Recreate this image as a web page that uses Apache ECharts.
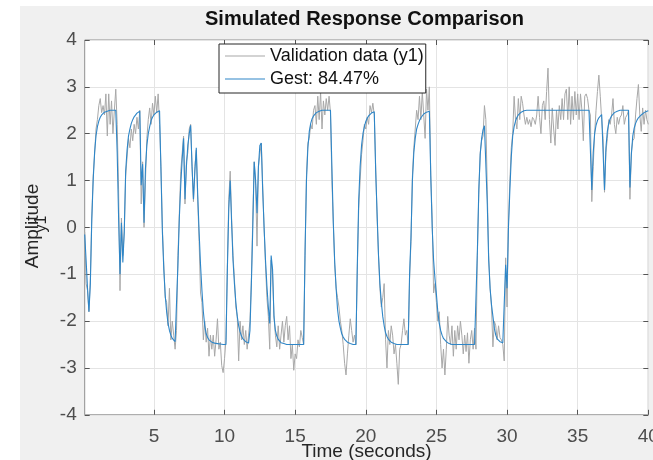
<!DOCTYPE html>
<html>
<head>
<meta charset="utf-8">
<script src="https://cdn.jsdelivr.net/npm/echarts@6/dist/echarts.min.js"></script>
<style>
  html, body { margin: 0; padding: 0; background: #fff; }
  #chart { width: 653px; height: 460px; }
</style>
</head>
<body>
<div id="chart"></div>
<script>
  // sample time of the validation record (s), first sample at dt
  const dt = 0.1;
  const xTicks = [5, 10, 15, 20, 25, 30, 35, 40];
  const seriesNames = ['Validation data (y1)', 'Gest: 84.47%'];

  // measured output, one row per second (0.1 s steps)
  const validation = [
    -0.1, -1.2, -1.35, -1.8, -1.1, 0.2, 1.1, 1.55, 2.1, 2.3,
    2.6, 2.75, 2.45, 2.6, 2.4, 2.85, 1.95, 2.85, 2.2, 2.7,
    2.0, 2.5, 2.95, 2.2, 0.8, -1.35, 0.2, -0.6, -0.1, 1.1,
    1.5, 1.9, 1.7, 2.1, 1.85, 2.2, 2.0, 2.35, 2.1, 2.5,
    0.5, 1.4, 0.0, 1.0, 1.9, 2.3, 2.55, 2.2, 2.65, 2.4,
    2.8, 2.45, 2.85, 2.2, 1.3, 0.0, -0.8, -1.5, -1.6, -2.1,
    -1.3, -2.4, -2.0, -2.3, -2.6, -2.2, -0.6, 0.3, 1.2, 1.2,
    1.95, 0.5, 1.4, 1.6, 2.1, 2.2, 1.3, 0.55, 1.3, 1.65,
    0.6, -0.3, -1.4, -1.6, -2.4, -2.0, -2.45, -2.15, -2.75, -2.3,
    -2.6, -2.3, -2.75, -2.4, -1.95, -2.6, -2.45, -2.95, -3.1, -2.8,
    -2.4, -0.8, 0.6, 1.2, 0.2, -0.6, -1.1, -1.7, -1.9, -2.85,
    -2.0, -2.4, -2.1, -2.5, -2.2, -2.6, -2.3, -2.0, -1.1, 0.2,
    1.4, 0.9, -0.4, 1.3, 1.55, 1.8, 0.9, 0.0, -0.8, -1.5,
    -1.9, -2.6, -0.7, -1.0, -1.9, -2.3, -2.55, -2.1, -2.6, -2.3,
    -2.0, -2.45, -2.1, -1.9, -2.4, -2.1, -2.8, -2.5, -3.05, -2.7,
    -2.8, -2.4, -2.55, -2.2, -2.35, -2.5, -0.6, 1.1, 1.8, 1.9,
    2.2, 2.1, 2.5, 2.6, 2.2, 2.8, 2.3, 2.9, 2.1, 2.7,
    2.4, 2.75, 2.5, 2.8, 2.45, 1.0, 0.1, -0.8, -1.3, -1.5,
    -1.7, -2.0, -2.2, -2.5, -2.9, -3.15, -2.7, -2.3, -1.95, -2.2,
    -2.45, -2.3, -2.5, -0.9, 0.4, 1.0, 1.55, 1.85, 2.2, 2.1,
    2.35, 2.2, 2.6, 2.45, 2.65, 2.4, 1.3, 0.2, -0.6, -1.3,
    -1.7, -1.5, -1.2, -2.4, -3.0, -2.2, -2.5, -2.1, -2.3, -2.7,
    -2.5, -2.9, -3.35, -2.6, -2.5, -2.2, -1.95, -2.3, -2.2, -2.5,
    -1.1, -0.3, 1.1, 1.7, 2.1, 2.5, 2.3, 2.8, 2.3, 2.9,
    2.4, 1.9, 2.95, 2.5, 3.0, 1.1, 0.2, -1.4, -1.2, -1.6,
    -2.0, -1.8, -2.5, -3.0, -2.6, -3.15, -2.6, -1.9, -2.3, -2.5,
    -2.1, -2.75, -2.2, -2.6, -2.1, -2.4, -2.0, -2.3, -2.7, -2.3,
    -2.65, -2.25, -2.9, -2.4, -2.2, -2.6, -2.15, -2.6, -0.6, 0.7,
    1.6, 1.85, 1.95, 2.6, 2.3, 0.8, -0.6, -1.3, -1.7, -2.55,
    -2.0, -2.1, -2.4, -2.1, -2.35, -2.4, -2.5, -2.85, -0.65, -1.7,
    0.1, 1.0, 1.7, 2.0, 2.8, 2.3, 2.1, 2.75, 2.3, 2.8,
    2.65, 2.4, 2.2, 2.35, 2.2, 2.3, 2.15, 2.35, 2.3, 2.2,
    2.4, 2.8, 2.35, 2.0, 2.6, 2.7, 2.3, 2.9, 3.4, 2.3,
    1.8, 2.55, 2.1, 1.75, 2.5, 2.1, 2.6, 2.3, 2.75, 2.3,
    2.85, 2.95, 2.3, 3.0, 2.2, 2.8, 2.3, 2.9, 2.4, 2.85,
    2.3, 2.85, 2.5, 1.85, 2.8, 2.85, 2.75, 2.5, 2.4, 0.55,
    1.3, 2.0, 2.5, 2.9, 3.25, 2.8, 2.3, 1.9, 0.75, 1.6,
    1.9, 2.3, 2.2, 2.4, 2.75, 2.2, 2.0, 2.35, 2.2, 2.35,
    2.4, 2.6, 2.2, 2.35, 2.4, 2.5, 0.6, 1.6, 1.85, 1.9,
    2.4, 2.75, 3.05, 2.4, 2.05, 2.55, 2.2, 2.5, 2.3, 2.2
  ];

  // simulated model output, same time grid
  const gest = [
    -0.15, -0.7, -1.3, -1.8, -1.2, 0.15, 1.0, 1.6, 1.95, 2.15,
    2.27, 2.35, 2.4, 2.43, 2.46, 2.47, 2.48, 2.49, 2.5, 2.5,
    2.5, 2.5, 2.5, 1.6, 0.2, -1.0, 0.1, -0.75, -0.1, 1.2,
    1.65, 1.95, 2.1, 2.22, 2.3, 2.36, 2.4, 2.44, 2.46, 2.48,
    0.9, 1.35, 0.1, 1.25, 1.75, 2.0, 2.15, 2.28, 2.35, 2.4,
    2.43, 2.46, 2.48, 2.49, 1.2, -0.1, -0.9, -1.45, -1.8, -2.05,
    -2.2, -2.3, -2.37, -2.41, -2.44, -2.46, -0.8, 0.2, 0.9, 1.45,
    1.9, 0.6, 1.3, 1.75, 2.0, 2.18, 1.3, 0.6, 1.2, 1.7,
    0.7, -0.1, -0.8, -1.35, -1.8, -2.1, -2.27, -2.35, -2.4, -2.43,
    -2.45, -2.46, -2.47, -2.48, -2.48, -2.49, -2.49, -2.5, -2.5, -2.5,
    -2.5, -0.9, 0.4, 1.0, 0.1, -0.7, -1.2, -1.6, -1.9, -2.1,
    -2.23, -2.32, -2.38, -2.42, -2.44, -2.46, -2.47, -2.2, -1.2, 0.0,
    1.4, 1.0, 0.3, 1.3, 1.75, 1.8, 0.8, 0.0, -0.7, -1.25,
    -1.7, -2.05, -0.6, -0.9, -1.9, -2.2, -2.32, -2.39, -2.43, -2.46,
    -2.47, -2.48, -2.49, -2.5, -2.5, -2.5, -2.5, -2.5, -2.5, -2.5,
    -2.5, -2.5, -2.5, -2.5, -2.5, -2.5, -0.5, 1.0, 1.7, 2.05,
    2.22, 2.32, 2.38, 2.42, 2.45, 2.47, 2.48, 2.49, 2.5, 2.5,
    2.5, 2.5, 2.5, 2.5, 2.5, 1.3, 0.1, -0.75, -1.3, -1.75,
    -2.0, -2.15, -2.27, -2.34, -2.39, -2.42, -2.45, -2.47, -2.48, -2.49,
    -2.5, -2.5, -2.5, -0.8, 0.6, 1.3, 1.75, 2.0, 2.15, 2.26,
    2.33, 2.38, 2.42, 2.44, 2.46, 2.47, 1.2, 0.3, -0.6, -1.2,
    -1.6, -1.9, -2.1, -2.25, -2.33, -2.39, -2.43, -2.45, -2.47, -2.48,
    -2.49, -2.5, -2.5, -2.5, -2.5, -2.5, -2.5, -2.5, -2.5, -2.5,
    -1.0, -0.2, 1.0, 1.6, 1.9, 2.1, 2.2, 2.28, 2.34, 2.38,
    2.42, 2.44, 2.46, 2.47, 2.48, 1.1, 0.0, -0.7, -1.1, -1.43,
    -1.8, -2.05, -2.2, -2.3, -2.37, -2.41, -2.44, -2.46, -2.48, -2.49,
    -2.5, -2.5, -2.5, -2.5, -2.5, -2.5, -2.5, -2.5, -2.5, -2.5,
    -2.5, -2.5, -2.5, -2.5, -2.5, -2.5, -2.5, -2.5, -0.5, 0.8,
    1.55, 1.9, 2.08, 2.17, 2.2, 0.5, -0.7, -1.3, -1.65, -1.9,
    -2.15, -2.3, -2.38, -2.42, -2.44, -2.45, -2.46, -2.47, -0.8, -1.3,
    0.0, 0.8, 1.5, 1.95, 2.15, 2.27, 2.35, 2.4, 2.44, 2.46,
    2.48, 2.49, 2.5, 2.5, 2.5, 2.5, 2.5, 2.5, 2.5, 2.5,
    2.5, 2.5, 2.5, 2.5, 2.5, 2.5, 2.5, 2.5, 2.5, 2.5,
    2.5, 2.5, 2.5, 2.5, 2.5, 2.5, 2.5, 2.5, 2.5, 2.5,
    2.5, 2.5, 2.5, 2.5, 2.5, 2.5, 2.5, 2.5, 2.5, 2.5,
    2.5, 2.5, 2.5, 2.5, 2.5, 2.5, 2.5, 2.5, 2.5, 0.8,
    1.6, 2.0, 2.18, 2.28, 2.34, 2.38, 2.41, 2.43, 0.8, 1.7,
    2.05, 2.22, 2.32, 2.38, 2.42, 2.45, 2.47, 2.48, 2.49, 2.5,
    2.5, 2.5, 2.5, 2.5, 2.5, 2.5, 0.85, 1.55, 1.95, 2.12,
    2.22, 2.29, 2.34, 2.37, 2.4, 2.43, 2.45, 2.47, 2.48, 2.49
  ];

  const toPairs = (arr) => arr.map((v, i) => [+((i + 1) * dt).toFixed(1), v]);

  const font = 'Liberation Sans, Arial, Helvetica, sans-serif';
  const tickColor = '#555';
  const gridColor = '#e4e4e4';

  let chart = echarts.init(document.getElementById('chart'), null, { renderer: 'canvas' });

  let option = {
    animation: false,
    textStyle: { fontFamily: font },
    title: {
      text: 'Simulated Response Comparison',
      left: 205,
      top: 9,
      padding: 0,
      textStyle: { fontSize: 20, fontWeight: 'bold', color: '#111', fontFamily: font }
    },
    legend: {
      data: seriesNames,
      orient: 'vertical',
      left: 219,
      top: 44,
      padding: [3, 2, 5, 6],
      icon: 'path://M0,0L40,0L40,1L0,1Z',
      itemWidth: 40,
      itemHeight: 1.2,
      itemGap: 5,
      backgroundColor: '#fff',
      borderColor: '#262626',
      borderWidth: 1,
      textStyle: { fontSize: 18, color: '#111', fontFamily: font }
    },
    grid: {
      left: 84.7,
      right: 4.7,
      top: 40,
      bottom: 45.2,
      show: true,
      backgroundColor: '#fff',
      borderColor: '#8f8f8f',
      borderWidth: 1,
      outerBoundsMode: 'none'
    },
    xAxis: [
      {
        type: 'value',
        min: 0.1,
        max: 40,
        position: 'bottom',
        name: 'Time (seconds)',
        nameLocation: 'middle',
        nameGap: 27,
        nameMoveOverlap: false,
        nameTextStyle: { fontSize: 19, color: '#262626', fontFamily: font },
        axisLine: { show: false, onZero: false },
        axisTick: { inside: true, length: 5, customValues: xTicks, lineStyle: { color: tickColor } },
        axisLabel: { customValues: xTicks, fontSize: 19, color: '#4d4d4d', margin: 12, fontFamily: font },
        splitLine: { show: true, lineStyle: { color: gridColor, width: 1 } }
      },
      {
        type: 'value',
        min: 0.1,
        max: 40,
        position: 'top',
        axisLine: { show: false, onZero: false },
        axisTick: { inside: true, length: 5, customValues: xTicks, lineStyle: { color: tickColor } },
        axisLabel: { show: false },
        splitLine: { show: false }
      }
    ],
    yAxis: [
      {
        type: 'value',
        min: -4,
        max: 4,
        interval: 1,
        position: 'left',
        axisLine: { show: false, onZero: false },
        axisTick: { inside: true, length: 5, lineStyle: { color: tickColor } },
        axisLabel: { fontSize: 19, color: '#4d4d4d', margin: 8, fontFamily: font },
        splitLine: { show: true, lineStyle: { color: gridColor, width: 1 } }
      },
      {
        type: 'value',
        min: -4,
        max: 4,
        interval: 1,
        position: 'right',
        axisLine: { show: false, onZero: false },
        axisTick: { inside: true, length: 5, lineStyle: { color: tickColor } },
        axisLabel: { show: false },
        splitLine: { show: false }
      }
    ],
    graphic: [
      {
        type: 'rect',
        z: -10,
        silent: true,
        shape: { x: 20, y: 6, width: 633, height: 454 },
        style: { fill: '#f0f0f0' }
      },
      {
        type: 'text',
        x: 33,
        y: 226,
        rotation: Math.PI / 2,
        silent: true,
        style: {
          text: 'Amplitude',
          fontSize: 19,
          fontFamily: font,
          fill: '#262626',
          textAlign: 'center',
          textVerticalAlign: 'middle'
        }
      },
      {
        type: 'text',
        x: 42,
        y: 224,
        rotation: Math.PI / 2,
        silent: true,
        style: {
          text: 'y1',
          fontSize: 16,
          fontFamily: font,
          fill: '#262626',
          textAlign: 'center',
          textVerticalAlign: 'middle'
        }
      }
    ],
    series: [
      {
        name: seriesNames[0],
        type: 'line',
        xAxisIndex: 0,
        yAxisIndex: 0,
        symbol: 'none',
        showSymbol: false,
        color: '#a8a8a8',
        lineStyle: { color: '#a8a8a8', width: 1 },
        data: toPairs(validation)
      },
      {
        name: seriesNames[1],
        type: 'line',
        xAxisIndex: 0,
        yAxisIndex: 0,
        symbol: 'none',
        showSymbol: false,
        color: '#2e86c8',
        lineStyle: { color: '#2e86c8', width: 1.1 },
        data: toPairs(gest)
      }
    ]
  };

  chart.setOption(option);
  window.addEventListener('resize', () => { chart.resize() });
</script>
</body>
</html>
